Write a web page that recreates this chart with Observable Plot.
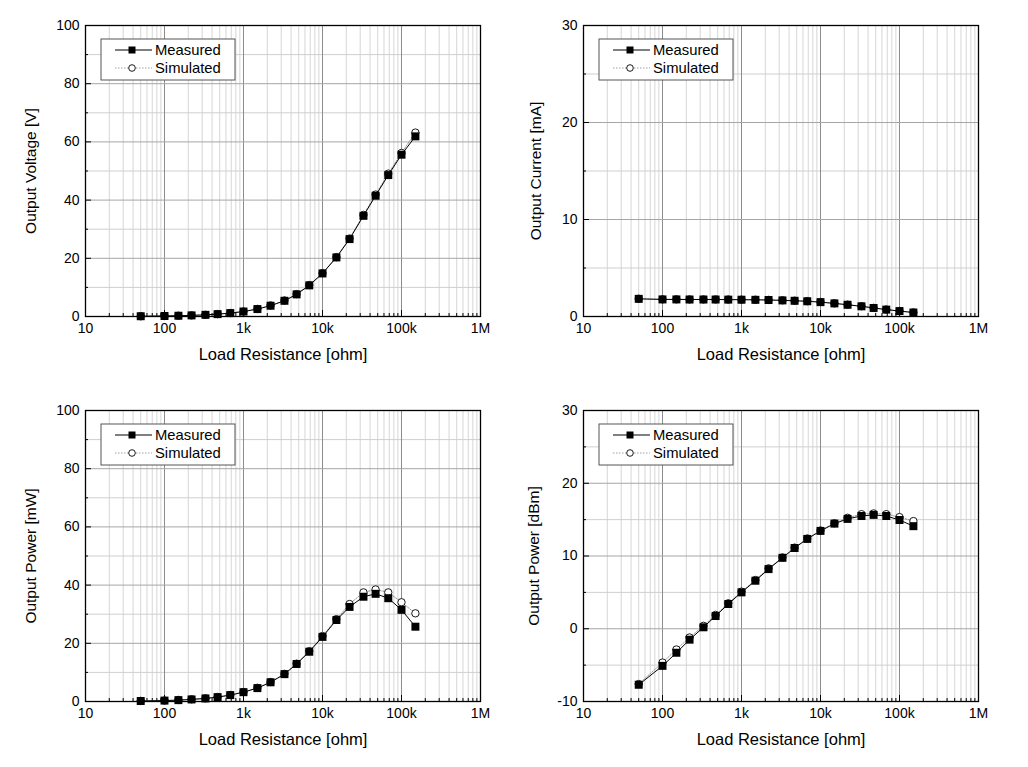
<!DOCTYPE html>
<html>
<head>
<meta charset="utf-8">
<script src="https://cdn.jsdelivr.net/npm/d3@7"></script>
<script src="https://cdn.jsdelivr.net/npm/@observablehq/plot@0.6"></script>
<style>
  html, body { margin: 0; padding: 0; background: #fff; }
  #wrap { position: relative; width: 1028px; height: 767px; background: #fff; overflow: hidden; }
  .panel { position: absolute; }
  .panel svg { font-family: "Liberation Sans", Arial, sans-serif; }
  .panel g[aria-label="x-axis tick label"] text,
  .panel g[aria-label="y-axis tick label"] text { font-size: 14px; fill: #000; }
  .panel g[aria-label="x-axis label"] text { font-size: 16.5px; fill: #000; }
  .panel g[aria-label="y-axis label"] text { font-size: 15.5px; fill: #000; }
  .panel .legend text { font-size: 14.8px; fill: #000; text-anchor: start; }
</style>
</head>
<body>
<div id="wrap"></div>
<script>
// ---------- data ----------
const resistance = [50,100,150,220,330,470,680,1000,1500,2200,3300,4700,6800,10000,15000,22000,33000,47000,68000,100000,150000];

const voltageMeasured  = [0.09,0.17,0.26,0.38,0.57,0.81,1.17,1.7,2.55,3.7,5.4,7.6,10.7,14.8,20.3,26.6,34.6,41.5,48.6,55.6,61.9];
const voltageSimulated = [0.09,0.18,0.27,0.39,0.58,0.83,1.19,1.74,2.6,3.8,5.5,7.7,10.8,14.9,20.4,26.8,34.9,41.9,49.1,56.2,63.2];

const currentMeasured  = [1.82,1.76,1.76,1.75,1.75,1.75,1.74,1.73,1.72,1.70,1.66,1.62,1.57,1.48,1.35,1.21,1.05,0.88,0.71,0.56,0.41];
const currentSimulated = [1.83,1.77,1.77,1.76,1.76,1.76,1.75,1.74,1.73,1.71,1.67,1.63,1.58,1.49,1.36,1.22,1.06,0.89,0.72,0.57,0.42];

const powerMeasured  = [0.17,0.31,0.47,0.71,1.05,1.5,2.2,3.2,4.6,6.6,9.4,12.9,17.1,22.2,28.0,32.5,36.0,37.0,35.5,31.5,25.7];
const powerSimulated = [0.2,0.34,0.52,0.76,1.1,1.55,2.25,3.25,4.7,6.7,9.5,13.0,17.3,22.5,28.3,33.5,37.5,38.5,37.5,34.1,30.3];

const dbmMeasured  = [-7.7,-5.1,-3.3,-1.5,0.2,1.75,3.4,5.0,6.6,8.2,9.75,11.1,12.35,13.45,14.45,15.1,15.5,15.65,15.5,14.95,14.1];
const dbmSimulated = [-7.6,-4.65,-2.85,-1.2,0.4,1.9,3.5,5.1,6.7,8.3,9.8,11.15,12.4,13.5,14.5,15.25,15.75,15.85,15.75,15.35,14.8];

const xMajorTicks = [10,100,1000,10000,100000,1000000];
const xTickLabels = ["10","100","1k","10k","100k","1M"];
const seriesNames = ["Measured","Simulated"];

const panels = [
  {label:"Output Voltage [V]",  meas:voltageMeasured, sim:voltageSimulated, domain:[0,100], major:[0,20,40,60,80,100], minor:[10,30,50,70,90], left:0,   top:0,   labelOffset:61},
  {label:"Output Current [mA]", meas:currentMeasured, sim:currentSimulated, domain:[0,30],  major:[0,10,20,30],        minor:[5,15,25],        left:498, top:0,   labelOffset:54},
  {label:"Output Power [mW]",   meas:powerMeasured,   sim:powerSimulated,   domain:[0,100], major:[0,20,40,60,80,100], minor:[10,30,50,70,90], left:0,   top:385, labelOffset:61},
  {label:"Output Power [dBm]",  meas:dbmMeasured,     sim:dbmSimulated,     domain:[-10,30],major:[-10,0,10,20,30],    minor:[-5,5,15,25],     left:498, top:385, labelOffset:56}
];

// minor x ticks 20..90 per decade
const xMinorTicks = [];
for (let d = 10; d < 1e6; d *= 10) for (let k = 2; k <= 9; k++) xMinorTicks.push(d * k);

const fmtX = v => xTickLabels[xMajorTicks.indexOf(v)] ?? "";

const W = 514, H = 383;
const mL = 85, mR = 34, mT = 25, mB = 67;

const wrap = document.getElementById("wrap");

panels.forEach(p => {
  const meas = resistance.map((r,i) => ({r, v:p.meas[i]}));
  const sim  = resistance.map((r,i) => ({r, v:p.sim[i]}));
  const chart = Plot.plot({
    width: W, height: H,
    marginLeft: mL, marginRight: mR, marginTop: mT, marginBottom: mB,
    style: {fontFamily: '"Liberation Sans", Arial, sans-serif', color: "#000", background: "#fff", overflow: "visible"},
    x: {type: "log", domain: [10, 1e6]},
    y: {domain: p.domain},
    marks: [
      Plot.ruleX(xMinorTicks, {stroke: "#d6d6d6", strokeWidth: 1}),
      Plot.ruleY(p.minor, {stroke: "#cfcfcf", strokeWidth: 1}),
      Plot.ruleX(xMajorTicks, {stroke: "#8c8c8c", strokeWidth: 1}),
      Plot.ruleY(p.major, {stroke: "#a6a6a6", strokeWidth: 1}),
      // inward ticks
      Plot.axisX({ticks: xMinorTicks, tickSize: -3, tickFormat: () => "", label: null, strokeWidth: 1}),
      Plot.axisX({ticks: xMajorTicks, tickSize: -6, tickFormat: () => "", label: null, strokeWidth: 1}),
      Plot.axisY({ticks: p.minor, tickSize: -3, tickFormat: () => "", label: null}),
      Plot.axisY({ticks: p.major, tickSize: -6, tickFormat: () => "", label: null}),
      // labels
      Plot.axisX({ticks: xMajorTicks, tickSize: 0, tickPadding: 7, tickFormat: fmtX,
                  label: "Load Resistance [ohm]", labelAnchor: "center", labelArrow: "none", labelOffset: 43}),
      Plot.axisY({ticks: p.major, tickSize: 0, tickPadding: 6, tickFormat: d => String(d),
                  label: p.label, labelAnchor: "center", labelArrow: "none", labelOffset: p.labelOffset}),
      // simulated
      Plot.line(sim, {x: "r", y: "v", stroke: "#777", strokeWidth: 0.8, strokeDasharray: "1.5,1.5"}),
      Plot.dot(sim, {x: "r", y: "v", symbol: "circle", r: 3.7, fill: "#fff", stroke: "#000", strokeWidth: 0.9}),
      // measured
      Plot.line(meas, {x: "r", y: "v", stroke: "#000", strokeWidth: 1}),
      Plot.dot(meas, {x: "r", y: "v", symbol: "square", r: 4.5, fill: "#000", stroke: "none"}),
      Plot.frame({stroke: "#000", strokeWidth: 1.3})
    ]
  });
  const div = document.createElement("div");
  div.className = "panel";
  div.style.left = p.left + "px";
  div.style.top = p.top + "px";
  div.appendChild(chart);
  wrap.appendChild(div);

  // legend (decoration, not data)
  const svg = d3.select(chart);
  const g = svg.append("g").attr("class", "legend").attr("transform", `translate(${mL + 16},${mT + 14})`);
  g.append("rect").attr("width", 134).attr("height", 41).attr("fill", "#fff").attr("stroke", "#555").attr("stroke-width", 1);
  seriesNames.forEach((name, i) => {
    const y = 11 + i * 18;
    const row = g.append("g").attr("transform", `translate(0,${y})`);
    if (i === 0) {
      row.append("line").attr("x1", 14).attr("x2", 51).attr("y1", 0).attr("y2", 0).attr("stroke", "#000").attr("stroke-width", 1);
      row.append("rect").attr("x", 27.5).attr("y", -3.5).attr("width", 7).attr("height", 7).attr("fill", "#000");
    } else {
      row.append("line").attr("x1", 14).attr("x2", 51).attr("y1", 0).attr("y2", 0).attr("stroke", "#888").attr("stroke-width", 0.8).attr("stroke-dasharray", "1.5,1.5");
      row.append("circle").attr("cx", 31).attr("cy", 0).attr("r", 3.3).attr("fill", "#fff").attr("stroke", "#000").attr("stroke-width", 0.9);
    }
    row.append("text").attr("x", 54).attr("y", 0).attr("dy", "0.35em").text(name);
  });
});
</script>
</body>
</html>
